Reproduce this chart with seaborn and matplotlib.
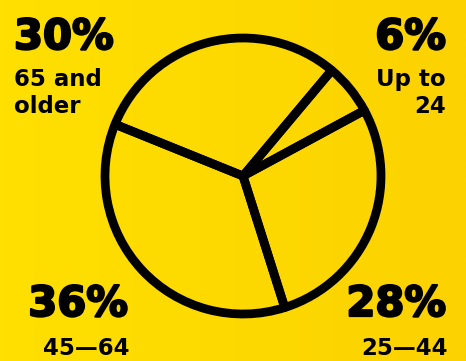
import numpy as np
import matplotlib.pyplot as plt
import matplotlib.patheffects as pe
import seaborn as sns
from matplotlib.colors import LinearSegmentedColormap

# Dados
categorias = ["Up to\n24", "25—44", "45—64", "65 and\nolder"]
valores = [6, 28, 36, 30]
rotulos_pct = ["6%", "28%", "36%", "30%"]

sns.set_style("white")
plt.rcParams['font.family'] = ['DejaVu Sans']

fig = plt.figure(figsize=(4.66, 3.61), dpi=100)

# fundo com gradiente amarelo
bg = fig.add_axes([0, 0, 1, 1])
grad = np.linspace(0, 1, 256).reshape(1, -1)
cmap = LinearSegmentedColormap.from_list("amarelo", ["#FFE000", "#FCD200"])
bg.imshow(grad, aspect="auto", cmap=cmap, extent=[0, 1, 0, 1])
bg.set_xlim(0, 1)
bg.set_ylim(0, 1)
bg.set_axis_off()

# pizza
r_px = 138
cx, cy = 243, 361 - 176
ax = fig.add_axes([(cx - r_px) / 466, (cy - r_px) / 361, 2 * r_px / 466, 2 * r_px / 361])
ax.pie(valores, startangle=50, counterclock=False, colors=["none"] * 4,
       wedgeprops=dict(edgecolor="black", linewidth=6.3, joinstyle="round"))
ax.set_xlim(-1, 1)
ax.set_ylim(-1, 1)
ax.set_axis_off()

grosso = [pe.withStroke(linewidth=1.6, foreground="black")]
big = dict(fontsize=30, fontweight="bold", color="black", path_effects=grosso)
small = dict(fontsize=16.5, fontweight="bold", color="black", linespacing=1.2)

# rótulos nos cantos
bg.text(14 / 466, 1 - 49 / 361, rotulos_pct[3], ha="left", va="baseline", **big)
bg.text(14 / 466, 1 - 113 / 361, categorias[3], ha="left", va="baseline", **small)
bg.text(446 / 466, 1 - 49 / 361, rotulos_pct[0], ha="right", va="baseline", **big)
bg.text(446 / 466, 1 - 113 / 361, categorias[0], ha="right", va="baseline", multialignment="right", **small)
bg.text(128 / 466, 1 - 316 / 361, rotulos_pct[2], ha="right", va="baseline", **big)
bg.text(129 / 466, 1 - 355 / 361, categorias[2], ha="right", va="baseline", **small)
bg.text(446 / 466, 1 - 316 / 361, rotulos_pct[1], ha="right", va="baseline", **big)
bg.text(448 / 466, 1 - 355 / 361, categorias[1], ha="right", va="baseline", **small)

plt.savefig("out.png", dpi=100)
